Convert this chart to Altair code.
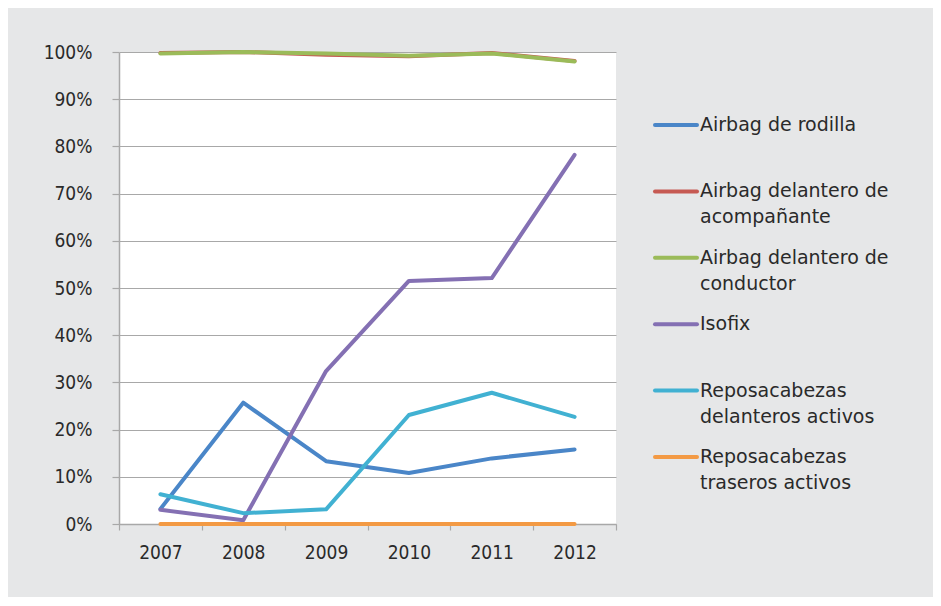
import altair as alt
import pandas as pd

years = ['2007', '2008', '2009', '2010', '2011', '2012']
series = [
    'Airbag de rodilla',
    'Airbag delantero de acompañante',
    'Airbag delantero de conductor',
    'Isofix',
    'Reposacabezas delanteros activos',
    'Reposacabezas traseros activos',
]
legend_labels = [
    'Airbag de rodilla',
    'Airbag delantero de\nacompañante',
    'Airbag delantero de\nconductor',
    'Isofix',
    'Reposacabezas\ndelanteros activos',
    'Reposacabezas\ntraseros activos',
]
legend_rank = [0, 1, 2, 3, 4, 5]
colors = ['#4a86c8', '#c65a53', '#9bbb59', '#8470b3', '#41b1d2', '#f39a44']

rodilla = [0.032, 0.257, 0.133, 0.108, 0.139, 0.158]
acompanante = [0.998, 1.000, 0.994, 0.991, 0.998, 0.981]
conductor = [0.997, 1.000, 0.997, 0.992, 0.997, 0.980]
isofix = [0.030, 0.008, 0.324, 0.515, 0.521, 0.782]
delanteros = [0.063, 0.023, 0.031, 0.231, 0.278, 0.227]
traseros = [0.0, 0.0, 0.0, 0.0, 0.0, 0.0]
values = [rodilla, acompanante, conductor, isofix, delanteros, traseros]

rows = []
for s, vals in zip(series, values):
    for yr, v in zip(years, vals):
        rows.append({'serie': s, 'year': yr, 'value': v})
df = pd.DataFrame(rows)
leg = pd.DataFrame({'serie': series, 'label': legend_labels, 'rank': legend_rank})

GRID = '#a8a8a8'
TXT = '#2a2a2a'
TICKFONT = 'DejaVu Sans Condensed'

color = alt.Color('serie:N', scale=alt.Scale(domain=series, range=colors), legend=None)

main = alt.Chart(df).mark_line(strokeWidth=4, strokeJoin='round', strokeCap='round').encode(
    x=alt.X('year:O',
            scale=alt.Scale(type='band', paddingInner=0, paddingOuter=0),
            bandPosition=0.5,
            axis=alt.Axis(title=None, labelAngle=0, tickBand='extent', grid=False,
                          domainColor=GRID, domainWidth=1.5, tickColor=GRID, tickWidth=1.2,
                          tickSize=6, labelPadding=13, labelFont=TICKFONT, labelFontSize=19,
                          labelColor=TXT)),
    y=alt.Y('value:Q',
            scale=alt.Scale(domain=[0, 1], nice=False),
            axis=alt.Axis(title=None, format='.0%', values=[i / 10 for i in range(11)],
                          grid=True, gridColor=GRID, gridWidth=1.2,
                          domainColor=GRID, domainWidth=1.5, tickColor=GRID, tickWidth=1.2,
                          tickSize=7, labelPadding=20, labelFont=TICKFONT, labelFontSize=19,
                          labelColor=TXT)),
    color=color,
).properties(width=497, height=472, view=alt.ViewBackground(fill='white', stroke=None))

ly = alt.Y('rank:Q', scale=alt.Scale(domain=[-1.10, 6.01], reverse=True, nice=False, zero=False),
           axis=None)
legend_base = alt.Chart(leg)
rules = legend_base.mark_rule(strokeWidth=4, strokeCap='round').encode(
    y=ly, x=alt.value(1), x2=alt.value(43), color=color)
texts = legend_base.mark_text(align='left', baseline='top', dy=-9, lineBreak='\n', lineHeight=26,
                              font='DejaVu Sans', fontSize=19, color=TXT).encode(
    y=ly, x=alt.value(46), text='label:N')
legend_chart = alt.layer(rules, texts).properties(
    width=260, height=472, view=alt.ViewBackground(fill=None, stroke=None))

chart = alt.hconcat(main, legend_chart, spacing=38, bounds='flush').properties(
    background='#e6e7e8',
    padding={'left': 35, 'top': 35, 'right': 19, 'bottom': 35},
).configure_view(stroke=None)

chart.save('out.html', embed_options={'renderer': 'svg', 'actions': False})
